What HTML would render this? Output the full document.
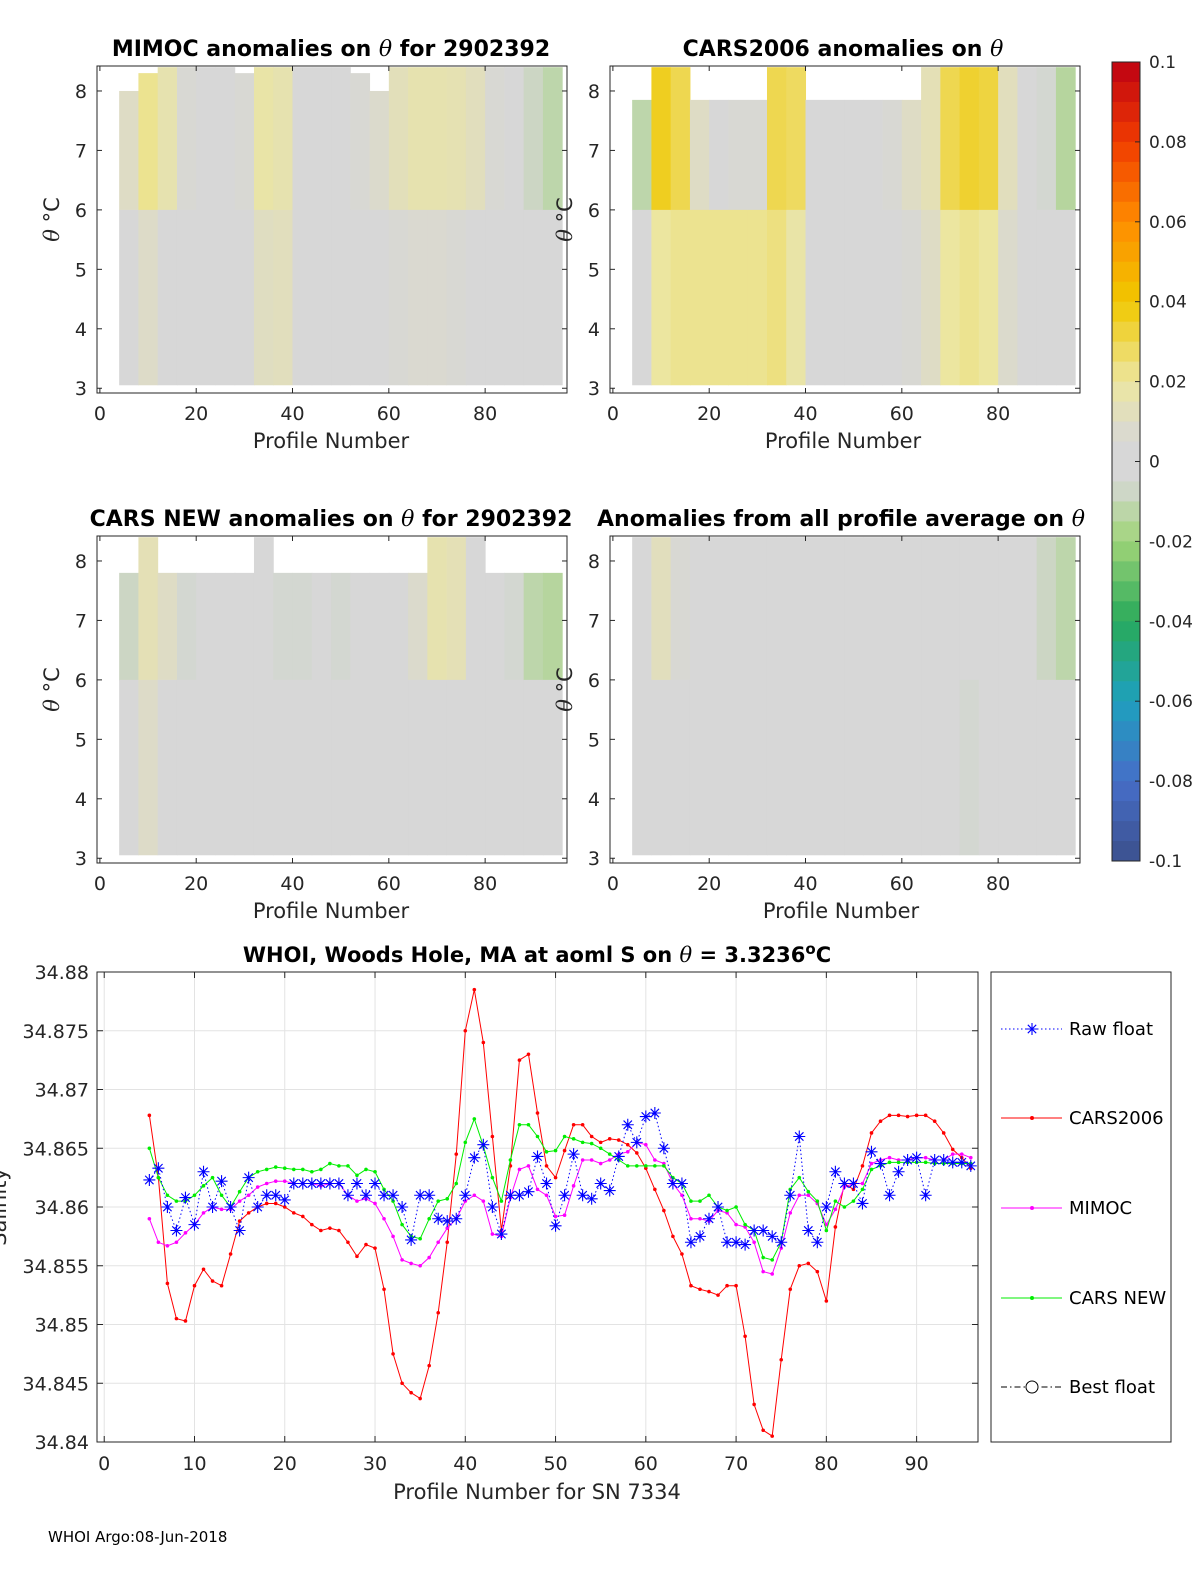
<!DOCTYPE html>
<html><head><meta charset="utf-8"><style>
html,body{margin:0;padding:0;background:#fff;}
svg{display:block;font-family:"DejaVu Sans","Liberation Sans",sans-serif;}
</style></head><body>
<svg id="fig" width="1200" height="1575" viewBox="0 0 1200 1575" xmlns="http://www.w3.org/2000/svg">
<rect width="1200" height="1575" fill="#fff"/>
<g id="maps"></g>
<g id="cbar"></g>
<g id="line"></g>
<text x="48" y="1542" font-size="15">WHOI Argo:08-Jun-2018</text>
</svg>
<script>
// ---------- heatmap data (profile groups of 4, starting at profile 4) ----------
const groupStart = [4,8,12,16,20,24,28,32,36,40,44,48,52,56,60,64,68,72,76,80,84,88,92];
const mimocUpper = [0.01,0.022,0.016,0.006,0.004,0.005,0.006,0.018,0.016,0.004,0.003,0.004,0.006,0.008,0.013,0.016,0.016,0.015,0.012,0.006,0.002,-0.008,-0.012];
const mimocLower = [0.004,0.009,0.004,0.002,0.003,0.004,0.004,0.011,0.012,0.003,0.002,0.003,0.004,0.004,0.006,0.007,0.007,0.006,0.004,0.003,0.002,0.0,0.0];
const mimocTop = [8.0,8.3,8.4,8.4,8.4,8.4,8.3,8.4,8.4,8.4,8.4,8.4,8.3,8.0,8.4,8.4,8.4,8.4,8.4,8.4,8.4,8.4,8.4];
const cars06Upper = [-0.012,0.036,0.03,0.01,0.004,0.006,0.006,0.03,0.028,0.004,0.002,0.004,0.004,0.006,0.01,0.014,0.03,0.034,0.032,0.012,0.004,-0.006,-0.014];
const cars06Lower = [-0.004,0.02,0.022,0.022,0.022,0.022,0.022,0.024,0.018,0.004,0.003,0.004,0.004,0.005,0.006,0.01,0.02,0.022,0.02,0.008,0.004,0.0,-0.004];
const cars06Top = [7.85,8.4,8.4,7.85,7.85,7.85,7.85,8.4,8.4,7.85,7.85,7.85,7.85,7.85,7.85,8.4,8.4,8.4,8.4,8.4,8.4,8.4,8.4];
const carsNewUpper = [-0.008,0.014,0.01,-0.006,0.002,0.002,0.004,-0.004,-0.006,-0.006,-0.004,-0.006,0.0,0.002,0.004,0.008,0.016,0.014,0.004,-0.004,-0.006,-0.012,-0.014];
const carsNewLower = [0.0,0.009,0.004,0.002,0.002,0.003,0.003,0.002,0.002,0.002,0.002,0.002,0.002,0.002,0.002,0.003,0.004,0.004,0.003,0.002,0.002,0.0,0.0];
const carsNewTop = [7.8,8.4,7.8,7.8,7.8,7.8,7.8,8.4,7.8,7.8,7.8,7.8,7.8,7.8,7.8,7.8,8.4,8.4,8.4,7.8,7.8,7.8,7.8];
const allAvgUpper = [0.004,0.012,0.006,0.002,0.002,0.002,0.002,0.002,0.003,0.002,0.002,0.002,0.002,0.002,0.003,0.002,0.002,0.002,0.002,0.002,0.0,-0.008,-0.012];
const allAvgLower = [0.001,0.002,0.001,0.001,0.001,0.001,0.001,0.001,0.001,0.001,0.001,0.001,0.001,0.001,0.001,0.001,0.001,-0.006,0.001,0.001,0.001,0.0,0.0];
const allAvgTop = [8.4,8.4,8.4,8.4,8.4,8.4,8.4,8.4,8.4,8.4,8.4,8.4,8.4,8.4,8.4,8.4,8.4,8.4,8.4,8.4,8.4,8.4,8.4];
const mapXTicks = [0,20,40,60,80];
const mapYTicks = [3,4,5,6,7,8];
const cbarTicks = [0.1,0.08,0.06,0.04,0.02,0,-0.02,-0.04,-0.06,-0.08,-0.1];
const cbarLabels = ["0.1","0.08","0.06","0.04","0.02","0","-0.02","-0.04","-0.06","-0.08","-0.1"];

// ---------- line chart data ----------
const profiles = [];for(let p=5;p<=96;p++)profiles.push(p);
const rawFloat = [34.8623,34.8633,34.860,34.858,34.8608,34.8585,34.863,34.860,34.8622,34.860,34.858,34.8625,34.860,34.861,34.861,34.8606,34.862,34.862,34.862,34.862,34.862,34.862,34.861,34.862,34.861,34.862,34.861,34.861,34.860,34.8572,34.861,34.861,34.859,34.8588,34.859,34.861,34.8642,34.8653,34.860,34.8577,34.861,34.861,34.8613,34.8643,34.862,34.8584,34.861,34.8645,34.861,34.8607,34.862,34.8614,34.8643,34.867,34.8655,34.8677,34.868,34.865,34.862,34.862,34.857,34.8575,34.859,34.860,34.857,34.857,34.8568,34.858,34.858,34.8575,34.857,34.861,34.866,34.858,34.857,34.860,34.863,34.862,34.862,34.8603,34.8647,34.8637,34.861,34.863,34.864,34.8642,34.861,34.864,34.864,34.8638,34.8638,34.8635];
const cars2006 = [34.8678,34.8625,34.8535,34.8505,34.8503,34.8533,34.8547,34.8537,34.8533,34.856,34.8588,34.8595,34.860,34.8603,34.8603,34.860,34.8595,34.8592,34.8585,34.858,34.8582,34.858,34.857,34.8558,34.8568,34.8565,34.853,34.8475,34.845,34.8442,34.8437,34.8465,34.851,34.857,34.8645,34.875,34.8785,34.874,34.866,34.858,34.8635,34.8725,34.873,34.868,34.8635,34.8625,34.8648,34.867,34.867,34.866,34.8655,34.8658,34.8657,34.8653,34.8646,34.8633,34.8615,34.8597,34.8575,34.856,34.8533,34.853,34.8528,34.8525,34.8533,34.8533,34.849,34.8432,34.841,34.8405,34.847,34.853,34.855,34.8552,34.8545,34.852,34.8583,34.862,34.8615,34.8635,34.8663,34.8673,34.8678,34.8678,34.8677,34.8678,34.8678,34.8673,34.8663,34.8649,34.8642,34.8633];
const mimoc = [34.859,34.857,34.8567,34.857,34.8578,34.8585,34.8595,34.860,34.8598,34.8598,34.8605,34.861,34.8617,34.862,34.8622,34.8622,34.862,34.862,34.862,34.8618,34.862,34.862,34.861,34.8605,34.8607,34.8603,34.859,34.8575,34.8555,34.8552,34.855,34.8557,34.857,34.8582,34.859,34.8605,34.861,34.8605,34.8577,34.8575,34.8608,34.8632,34.8635,34.8615,34.861,34.8592,34.8593,34.8618,34.864,34.864,34.8637,34.864,34.8645,34.8647,34.8655,34.8653,34.864,34.8637,34.862,34.861,34.859,34.859,34.8588,34.8597,34.8595,34.8585,34.8583,34.857,34.8545,34.8543,34.8565,34.8595,34.861,34.861,34.8603,34.8585,34.8598,34.8617,34.862,34.862,34.8637,34.864,34.8642,34.864,34.864,34.8642,34.8642,34.864,34.864,34.8645,34.8645,34.8642];
const carsNew = [34.865,34.8625,34.861,34.8605,34.8605,34.861,34.8618,34.8625,34.861,34.860,34.8613,34.8625,34.863,34.8632,34.8634,34.8633,34.8632,34.8632,34.863,34.8632,34.8637,34.8635,34.8635,34.8627,34.8632,34.863,34.8615,34.8605,34.8585,34.8575,34.8573,34.859,34.8605,34.8607,34.862,34.8655,34.8675,34.8652,34.8625,34.8605,34.864,34.867,34.867,34.866,34.8647,34.8648,34.866,34.8658,34.8655,34.8654,34.865,34.8645,34.864,34.8635,34.8635,34.8635,34.8635,34.8635,34.8625,34.862,34.8605,34.8605,34.861,34.860,34.8597,34.860,34.8585,34.858,34.8557,34.8555,34.857,34.8615,34.8625,34.8613,34.8605,34.858,34.8605,34.860,34.8605,34.8615,34.8632,34.8635,34.8638,34.8638,34.8638,34.8638,34.8638,34.8637,34.8637,34.8637,34.8637,34.8637];
const lineXTicks = [0,10,20,30,40,50,60,70,80,90];
const lineYTicks = [34.84,34.845,34.85,34.855,34.86,34.865,34.87,34.875,34.88];
const lineYLabels = ["34.84","34.845","34.85","34.855","34.86","34.865","34.87","34.875","34.88"];

const NS="http://www.w3.org/2000/svg";
function mk(tag,attrs,parent){const e=document.createElementNS(NS,tag);for(const k in attrs)e.setAttribute(k,attrs[k]);parent.appendChild(e);return e;}
function addTitle(parent,x,y,size,bold,parts,name){
 const t=mk('text',{x:x,y:y,'font-size':size,'text-anchor':'middle'},parent);
 if(bold)t.setAttribute('font-weight','bold');
 parts.forEach(p=>{const s=mk('tspan',{},t);s.textContent=p[0];if(p[1]){s.setAttribute('font-family','"DejaVu Serif","Liberation Serif",serif');s.setAttribute('font-style','italic');s.setAttribute('font-weight','normal');}});
 return t;}

const cstops=[[-0.1,[60,80,140]],[-0.08,[70,110,200]],[-0.06,[30,160,190]],[-0.04,[40,170,90]],[-0.02,[160,212,120]],[-0.005,[215,215,215]],[0.005,[215,215,215]],[0.02,[236,230,160]],[0.04,[240,200,0]],[0.06,[255,140,0]],[0.08,[240,60,0]],[0.1,[190,0,20]]];
function cmap(v){v=Math.max(-0.1,Math.min(0.1,v));for(let i=0;i<cstops.length-1;i++){const a=cstops[i],b=cstops[i+1];if(v<=b[0]){const t=(v-a[0])/(b[0]-a[0]);const c=a[1].map((x,j)=>Math.round(x+(b[1][j]-x)*t));return `rgb(${c[0]},${c[1]},${c[2]})`;}}return 'rgb(190,0,20)';}

const maps=document.getElementById('maps');
const panels=[
 {name:'mimoc',title:[['MIMOC anomalies on '],['θ',1],['  for 2902392']],x0:97,y0:66,up:mimocUpper,lo:mimocLower,top:mimocTop,tx:331,xly:448},
 {name:'cars2006',title:[['CARS2006 anomalies on '],['θ',1]],x0:610,y0:66,up:cars06Upper,lo:cars06Lower,top:cars06Top,tx:843,xly:448},
 {name:'cars-new',title:[['CARS NEW anomalies on '],['θ',1],[' for 2902392']],x0:97,y0:536,up:carsNewUpper,lo:carsNewLower,top:carsNewTop,tx:331,xly:918},
 {name:'all-average',title:[['Anomalies from all profile average on '],['θ',1]],x0:610,y0:536,up:allAvgUpper,lo:allAvgLower,top:allAvgTop,tx:841,xly:918}
];
const PW=470,PH=327,XMIN=-0.6,XMAX=97,YMIN=2.92,YMAX=8.42;
panels.forEach(p=>{
 const g=mk('g',{},maps);
 
 
 const sx=v=>p.x0+(v-XMIN)/(XMAX-XMIN)*PW;
 const sy=v=>p.y0+PH-(v-YMIN)/(YMAX-YMIN)*PH;
 groupStart.forEach((s,i)=>{
  const x1=sx(Math.max(s,3.5)),x2=sx(Math.min(s+4,96));
  const r1=mk('rect',{x:x1,y:sy(p.top[i]),width:x2-x1+0.5,height:sy(6)-sy(p.top[i])+0.5,fill:cmap(p.up[i])},g);
  
  
  const r2=mk('rect',{x:x1,y:sy(6),width:x2-x1+0.5,height:sy(3.05)-sy(6),fill:cmap(p.lo[i])},g);
  
  
 });
 mk('rect',{x:p.x0,y:p.y0,width:PW,height:PH,fill:'none',stroke:'#262626','stroke-width':1},g);
 mapXTicks.forEach(t=>{const x=sx(t);mk('line',{x1:x,x2:x,y1:p.y0+PH,y2:p.y0+PH-5,stroke:'#262626'},g);mk('line',{x1:x,x2:x,y1:p.y0,y2:p.y0+5,stroke:'#262626'},g);
  const tt=mk('text',{x:x,y:p.y0+PH+27,'font-size':19,'text-anchor':'middle',fill:'#262626'},g);tt.textContent=t;
  });
 mapYTicks.forEach(t=>{const y=sy(t);mk('line',{x1:p.x0,x2:p.x0+5,y1:y,y2:y,stroke:'#262626'},g);mk('line',{x1:p.x0+PW,x2:p.x0+PW-5,y1:y,y2:y,stroke:'#262626'},g);
  const tt=mk('text',{x:p.x0-10,y:y+7,'font-size':19,'text-anchor':'end',fill:'#262626'},g);tt.textContent=t;
  });
 addTitle(g,p.tx,p.y0-10,22,true,p.title,'panel-title');
 const xl=mk('text',{x:p.tx,y:p.xly,'font-size':21,'text-anchor':'middle',fill:'#262626'},g);xl.textContent='Profile Number';
 
 const yl=mk('text',{x:0,y:0,'font-size':21,'text-anchor':'middle',fill:'#262626',transform:`translate(${p.x0-38},${p.y0+PH/2-10}) rotate(-90)`},g);
 const a=mk('tspan',{'font-family':'"DejaVu Serif",serif','font-style':'italic'},yl);a.textContent='θ ';
 const b=mk('tspan',{},yl);b.textContent='°C';
 
});

// colorbar
const cb=document.getElementById('cbar');
const CX=1112,CW=28,CT=62,CB=861;
const csy=v=>CT+(0.1-v)/0.2*(CB-CT);
for(let i=0;i<40;i++){const v0=0.1-i*0.005;const r=mk('rect',{x:CX,y:csy(v0),width:CW,height:(CB-CT)/40+0.5,fill:cmap(v0-0.0025)},cb);
 }
mk('rect',{x:CX,y:CT,width:CW,height:CB-CT,fill:'none',stroke:'#262626'},cb);
cbarTicks.forEach((t,i)=>{const y=csy(t);mk('line',{x1:CX+CW-5,x2:CX+CW,y1:y,y2:y,stroke:'#262626'},cb);
 const tt=mk('text',{x:CX+CW+9,y:y+6,'font-size':17,fill:'#262626'},cb);tt.textContent=cbarLabels[i];
 });

// line chart
const L=document.getElementById('line');
const LX=97,LY=972,LW=881,LH=470,LXMIN=-0.8,LXMAX=96.8,LYMIN=34.84,LYMAX=34.88;
const lx=v=>LX+(v-LXMIN)/(LXMAX-LXMIN)*LW;
const ly=v=>LY+LH-(v-LYMIN)/(LYMAX-LYMIN)*LH;
mk('rect',{x:LX,y:LY,width:LW,height:LH,fill:'#fff'},L);
lineXTicks.forEach(t=>{const x=lx(t);mk('line',{x1:x,x2:x,y1:LY,y2:LY+LH,stroke:'#e3e3e3'},L);
 mk('line',{x1:x,x2:x,y1:LY+LH,y2:LY+LH-6,stroke:'#262626'},L);mk('line',{x1:x,x2:x,y1:LY,y2:LY+6,stroke:'#262626'},L);
 const tt=mk('text',{x:x,y:LY+LH+28,'font-size':19,'text-anchor':'middle',fill:'#262626'},L);tt.textContent=t;
 });
lineYTicks.forEach((t,i)=>{const y=ly(t);mk('line',{x1:LX,x2:LX+LW,y1:y,y2:y,stroke:'#e3e3e3'},L);
 mk('line',{x1:LX,x2:LX+6,y1:y,y2:y,stroke:'#262626'},L);mk('line',{x1:LX+LW,x2:LX+LW-6,y1:y,y2:y,stroke:'#262626'},L);
 const tt=mk('text',{x:LX-8,y:y+7,'font-size':19,'text-anchor':'end',fill:'#262626'},L);tt.textContent=lineYLabels[i];
 });
function series(vals,color,name,dash){
 const g=mk('g',{},L);
 const pts=vals.map((v,i)=>lx(profiles[i]).toFixed(1)+','+ly(v).toFixed(1)).join(' ');
 const pl=mk('polyline',{points:pts,fill:'none',stroke:color,'stroke-width':1},g);
 if(dash)pl.setAttribute('stroke-dasharray',dash);
 
 return g;}
const g1=series(cars2006,'#ff0000','cars2006');cars2006.forEach((v,i)=>{const c=mk('circle',{cx:lx(profiles[i]),cy:ly(v),r:1.8,fill:'#ff0000'},g1);});
const g2=series(mimoc,'#ff00ff','mimoc');mimoc.forEach((v,i)=>{const c=mk('circle',{cx:lx(profiles[i]),cy:ly(v),r:1.8,fill:'#ff00ff'},g2);});
const g3=series(carsNew,'#00ee00','cars-new');carsNew.forEach((v,i)=>{const c=mk('circle',{cx:lx(profiles[i]),cy:ly(v),r:1.8,fill:'#00ee00'},g3);});
const g4=series(rawFloat,'#0000ff','raw-float','1.5,2.5');
rawFloat.forEach((v,i)=>{const x=lx(profiles[i]),y=ly(v),s=6;
 const p=mk('path',{d:`M${x-s},${y}H${x+s}M${x},${y-s}V${y+s}M${x-4.2},${y-4.2}L${x+4.2},${y+4.2}M${x-4.2},${y+4.2}L${x+4.2},${y-4.2}`,stroke:'#0000ff','stroke-width':1.1},g4);
 });
mk('rect',{x:LX,y:LY,width:LW,height:LH,fill:'none',stroke:'#262626'},L);
const lt=mk('text',{x:537,y:962,'font-size':21,'font-weight':'bold','text-anchor':'middle'},L);
const lt1=mk('tspan',{},lt);lt1.textContent='WHOI, Woods Hole, MA at aoml S on ';
const lt2=mk('tspan',{'font-family':'"DejaVu Serif",serif','font-style':'italic','font-weight':'normal'},lt);lt2.textContent='θ';
const lt3=mk('tspan',{},lt);lt3.textContent=' = 3.3236';
const lt4=mk('tspan',{dy:-8,'font-size':15},lt);lt4.textContent='o';
const lt5=mk('tspan',{dy:8},lt);lt5.textContent='C';

const lxl=mk('text',{x:537,y:1499,'font-size':21,'text-anchor':'middle',fill:'#262626'},L);lxl.textContent='Profile Number for SN 7334';

const lyl=mk('text',{x:0,y:0,'font-size':21,'text-anchor':'middle',fill:'#262626',transform:'translate(6,1207) rotate(-90)'},L);lyl.textContent='Salinity';


// legend
const lg=mk('g',{},L);
mk('rect',{x:991,y:972,width:180,height:470,fill:'#fff',stroke:'#262626'},lg);
const entries=[['Raw float','#0000ff','1.5,2.5','star',1029],['CARS2006','#ff0000','','dot',1118],['MIMOC','#ff00ff','','dot',1208],['CARS NEW','#00ee00','','dot',1298],['Best float','#000','6,3,1.5,3','circle',1387]];
entries.forEach(e=>{const g=mk('g',{},lg);
 const y=e[4];const ln=mk('line',{x1:1001,x2:1062,y1:y,y2:y,stroke:e[1],'stroke-width':1},g);if(e[2])ln.setAttribute('stroke-dasharray',e[2]);
 const cx=1032;
 if(e[3]==='star')mk('path',{d:`M${cx-6},${y}H${cx+6}M${cx},${y-6}V${y+6}M${cx-4.2},${y-4.2}L${cx+4.2},${y+4.2}M${cx-4.2},${y+4.2}L${cx+4.2},${y-4.2}`,stroke:e[1],'stroke-width':1.1},g);
 else if(e[3]==='dot')mk('circle',{cx:cx,cy:y,r:2,fill:e[1]},g);
 else mk('circle',{cx:cx,cy:y,r:6,fill:'#fff',stroke:'#000'},g);
 const t=mk('text',{x:1069,y:y+6,'font-size':18,fill:'#000'},g);t.textContent=e[0];});
</script>
</body></html>
